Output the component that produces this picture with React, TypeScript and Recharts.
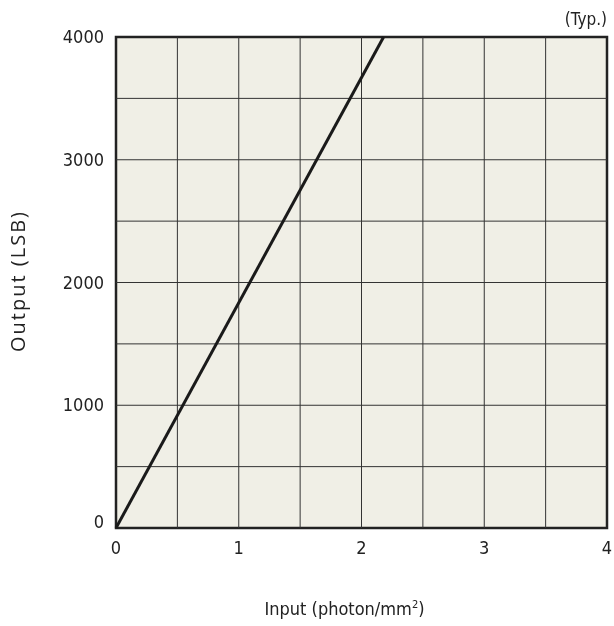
import React from "react";
import {
  ComposedChart,
  Line,
  XAxis,
  YAxis,
  ReferenceLine,
  ReferenceArea,
  Label,
} from "recharts";

const inputValues = [0, 2.18];
const outputValues = [0, 4000];
const xTicks = [0, 1, 2, 3, 4];
const yTicks = [0, 1000, 2000, 3000, 4000];
const gridX = [0.5, 1, 1.5, 2, 2.5, 3, 3.5];
const gridY = [500, 1000, 1500, 2000, 2500, 3000, 3500];

const data = inputValues.map((x, i) => ({ x, y: outputValues[i] }));

const FONT = "'DejaVu Sans Condensed', Tahoma, 'DejaVu Sans', sans-serif";
const YFONT = "'Open Sans', 'Noto Sans', sans-serif";
const TEXT = "#222";

const YTick = (props: any) => {
  const { x, y, payload } = props;
  const dy = payload.value === 0 ? -6 : 0;
  return (
    <text x={x - 2} y={y + dy} dy={6} textAnchor="end" fontSize={18} fill={TEXT} fontFamily={FONT}>
      {payload.value}
    </text>
  );
};

const XTick = (props: any) => {
  const { x, y, payload } = props;
  return (
    <text x={x} y={y} dy={18} textAnchor="middle" fontSize={18} fill={TEXT} fontFamily={FONT}>
      {payload.value}
    </text>
  );
};

const XLabel = (props: any) => {
  const { viewBox } = props;
  const cx = viewBox.x + viewBox.width / 2 - 17;
  return (
    <text x={cx} y={615} textAnchor="middle" fontSize={18} fill={TEXT} fontFamily={FONT}>
      Input (photon/mm
      <tspan fontSize={11} dy={-7}>2</tspan>
      <tspan dy={7}>)</tspan>
    </text>
  );
};

const YLabel = () => (
  <text
    x={25}
    y={281}
    transform="rotate(-90 25 281)"
    textAnchor="middle"
    fontSize={20}
    letterSpacing={2}
    fill={TEXT}
    fontFamily={YFONT}
  >
    Output (LSB)
  </text>
);

export default function App() {
  return (
    <div style={{ position: "fixed", left: 0, top: 0, width: 614, height: 626 }}>
      <style>{"html{overflow:hidden}"}</style>
      <ComposedChart
        width={614}
        height={626}
        data={data}
        margin={{ top: 37, right: 7, left: 0, bottom: 0 }}
      >
        <XAxis
          dataKey="x"
          type="number"
          domain={[0, 4]}
          ticks={xTicks}
          axisLine={false}
          tickLine={false}
          tick={<XTick />}
          height={98}
          interval={0}
        >
          <Label content={<XLabel />} />
        </XAxis>
        <YAxis
          type="number"
          domain={[0, 4000]}
          ticks={yTicks}
          axisLine={false}
          tickLine={false}
          tick={<YTick />}
          width={116}
          tickMargin={4}
          interval={0}
        >
          <Label content={<YLabel />} />
        </YAxis>
        <ReferenceArea x1={0} x2={4} y1={0} y2={4000} fill="#f0efe6" fillOpacity={1} stroke="none" />
        {gridX.map((g) => (
          <ReferenceLine key={"gx" + g} x={g} stroke="#333" strokeWidth={1} />
        ))}
        {gridY.map((g) => (
          <ReferenceLine key={"gy" + g} y={g} stroke="#333" strokeWidth={1} />
        ))}
        <ReferenceArea
          x1={0}
          x2={4}
          y1={0}
          y2={4000}
          fill="none"
          stroke="#222"
          strokeWidth={2.5}
          ifOverflow="visible"
        />
        <Line
          dataKey="y"
          type="linear"
          stroke="#1a1a1a"
          strokeWidth={3}
          dot={false}
          isAnimationActive={false}
        />
      </ComposedChart>
      <div
        style={{
          position: "absolute",
          right: 7,
          top: 9,
          fontFamily: FONT,
          fontSize: 17,
          color: TEXT,
          lineHeight: "20px",
        }}
      >
        (Typ.)
      </div>
    </div>
  );
}
